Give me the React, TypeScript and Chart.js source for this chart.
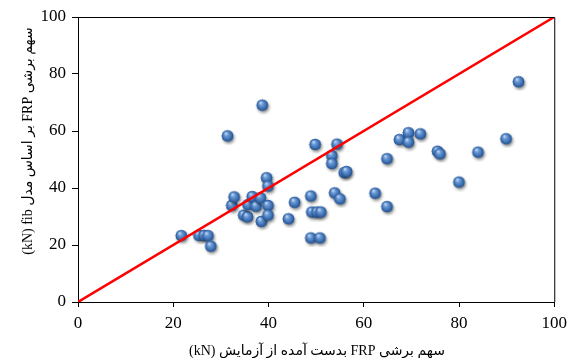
import React, { useEffect, useRef } from 'react';
import { Chart, registerables } from 'chart.js';

Chart.register(...registerables);

// Experimental FRP shear contribution (kN)
const xValues = [
  21.8, 25.5, 26.6, 27.4, 28.0, 31.5, 32.4, 32.9, 34.9, 35.7,
  35.8, 36.7, 37.5, 38.4, 38.6, 38.8, 39.7, 40.0, 40.0, 40.0,
  44.3, 45.6, 49.0, 49.0, 49.2, 49.9, 50.3, 50.9, 51.1, 53.4,
  53.4, 54.0, 54.5, 55.1, 56.0, 56.5, 62.5, 65.0, 65.0, 67.6,
  69.5, 69.5, 72.0, 75.6, 76.1, 80.1, 84.1, 90.0, 92.6,
];
// fib model FRP shear contribution (kN)
const yValues = [
  23.1, 23.2, 23.2, 23.1, 19.4, 58.1, 33.7, 36.7, 30.3, 29.7,
  34.0, 36.8, 33.4, 36.4, 28.1, 68.9, 43.4, 40.5, 33.7, 30.3,
  29.0, 34.8, 37.0, 22.3, 31.4, 55.1, 31.4, 22.3, 31.4, 51.2,
  48.4, 38.1, 55.2, 36.0, 45.2, 45.6, 38.0, 50.1, 33.3, 56.8,
  59.2, 55.9, 58.8, 52.7, 51.8, 41.9, 52.4, 57.1, 77.1,
];
// y = x reference line
const lineX = [0, 100];
const lineY = [0, 100];

const xTicks = [0, 20, 40, 60, 80, 100];
const yTicks = [0, 20, 40, 60, 80, 100];

const xTitle = 'سهم برشی FRP بدست آمده از آزمایش \u200F(kN)';
const yTitle = 'سهم برشی FRP بر اساس مدل fib \u200F(kN)';

const FONT_FAMILY = "'Liberation Serif', 'DejaVu Serif', 'DejaVu Sans', serif";

function makeSphere(): HTMLCanvasElement {
  const size = 18;
  const c = document.createElement('canvas');
  c.width = size;
  c.height = size;
  const g = c.getContext('2d')!;
  const cx = 8.5;
  const cy = 8.5;
  const r = 5.8;
  g.save();
  g.shadowColor = 'rgba(0,0,0,0.45)';
  g.shadowBlur = 3;
  g.shadowOffsetX = 1.2;
  g.shadowOffsetY = 2;
  g.beginPath();
  g.arc(cx, cy, r, 0, Math.PI * 2);
  g.fillStyle = '#2f609c';
  g.fill();
  g.restore();
  const grad = g.createRadialGradient(cx - 1.8, cy - 2.6, 0.4, cx, cy, r);
  grad.addColorStop(0, '#c3daf5');
  grad.addColorStop(0.3, '#6d9bd6');
  grad.addColorStop(0.7, '#3f72b5');
  grad.addColorStop(1, '#244f88');
  g.beginPath();
  g.arc(cx, cy, r, 0, Math.PI * 2);
  g.fillStyle = grad;
  g.fill();
  return c;
}

const frameAndTitles = {
  id: 'frameAndTitles',
  afterDatasetsDraw(chart: any) {
    const { ctx, chartArea } = chart;
    ctx.save();
    ctx.strokeStyle = '#000';
    ctx.lineWidth = 1;
    ctx.beginPath();
    ctx.moveTo(chartArea.left, chartArea.top + 0.5);
    ctx.lineTo(chartArea.right + 0.5, chartArea.top + 0.5);
    ctx.lineTo(chartArea.right + 0.5, chartArea.bottom);
    ctx.stroke();
    ctx.restore();
  },
  afterDraw(chart: any) {
    const { ctx } = chart;
    ctx.save();
    ctx.fillStyle = '#000';
    ctx.font = `14px ${FONT_FAMILY}`;
    ctx.textAlign = 'center';
    ctx.textBaseline = 'middle';
    (ctx as any).direction = 'rtl';
    ctx.fillText(xTitle, 317, 351);
    ctx.translate(28, 141);
    ctx.rotate(-Math.PI / 2);
    ctx.fillText(yTitle, 0, 0);
    ctx.restore();
  },
};

export default function App() {
  const canvasRef = useRef<HTMLCanvasElement | null>(null);

  useEffect(() => {
    const canvas = canvasRef.current;
    if (!canvas) return;
    const sphere = makeSphere();
    const points = xValues.map((x, i) => ({ x, y: yValues[i] }));
    const line = lineX.map((x, i) => ({ x, y: lineY[i] }));

    const chart = new Chart(canvas, {
      type: 'scatter',
      data: {
        datasets: [
          {
            type: 'line',
            data: line,
            borderColor: '#ff0000',
            borderWidth: 2.5,
            pointRadius: 0,
            fill: false,
            order: 0,
          } as any,
          {
            type: 'scatter',
            data: points,
            pointStyle: sphere as any,
            pointRadius: 6,
            order: 1,
          } as any,
        ],
      },
      options: {
        animation: false,
        responsive: false,
        devicePixelRatio: 1,
        layout: { padding: { top: 17, right: 17, left: 0, bottom: 0 } },
        plugins: {
          legend: { display: false },
          tooltip: { enabled: false },
          title: { display: false },
        },
        scales: {
          x: {
            type: 'linear',
            min: 0,
            max: 100,
            afterBuildTicks: (s: any) => {
              s.ticks = xTicks.map((v) => ({ value: v }));
            },
            afterFit: (s: any) => {
              s.height = 56;
            },
            ticks: {
              color: '#000',
              padding: 6,
              maxRotation: 0,
              font: { family: FONT_FAMILY, size: 17 },
            },
            grid: {
              display: true,
              drawOnChartArea: false,
              drawTicks: true,
              tickLength: 5,
              color: '#000',
            },
            border: { display: true, color: '#000', width: 1 },
          },
          y: {
            type: 'linear',
            min: 0,
            max: 100,
            afterBuildTicks: (s: any) => {
              s.ticks = yTicks.map((v) => ({ value: v }));
            },
            afterFit: (s: any) => {
              s.width = 78;
            },
            ticks: {
              color: '#000',
              padding: 6,
              font: { family: FONT_FAMILY, size: 17 },
            },
            grid: {
              display: true,
              drawOnChartArea: false,
              drawTicks: true,
              tickLength: 6,
              color: '#000',
            },
            border: { display: true, color: '#000', width: 1 },
          },
        },
      },
      plugins: [frameAndTitles],
    });

    return () => chart.destroy();
  }, []);

  return (
    <div style={{ position: 'fixed', left: 0, top: 0, width: 573, height: 358, background: '#fff' }}>
      <canvas ref={canvasRef} width={573} height={358} />
    </div>
  );
}
